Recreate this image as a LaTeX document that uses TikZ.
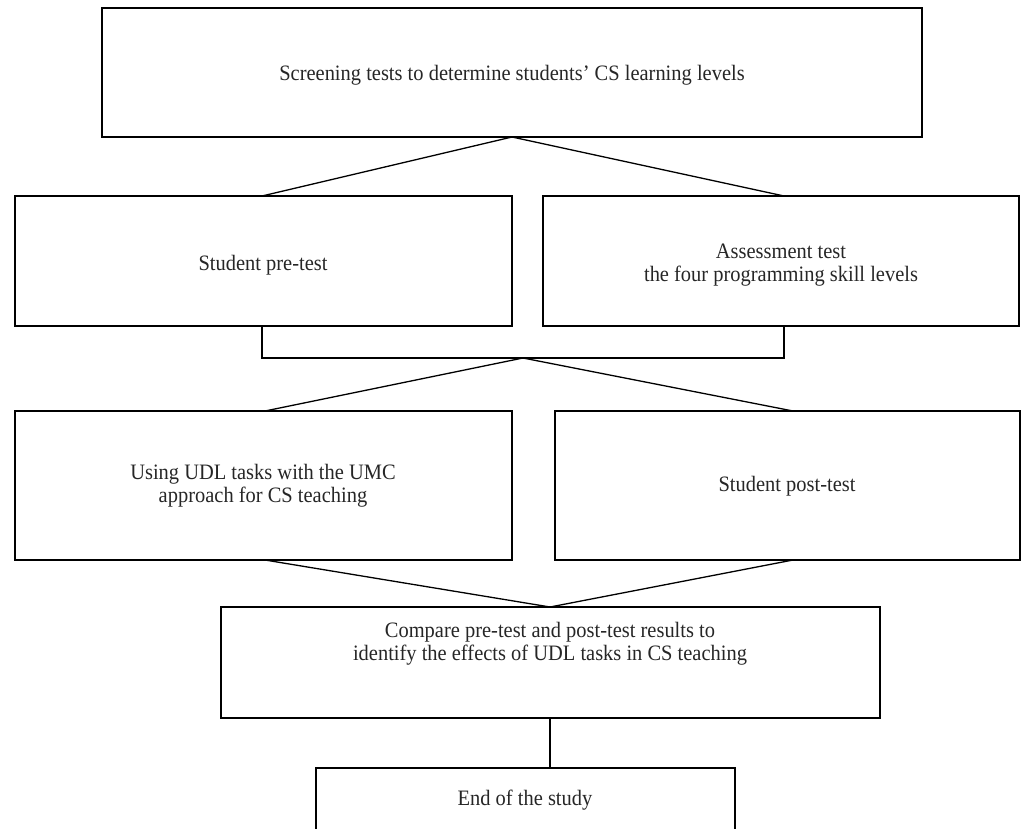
\documentclass[tikz,border=0pt]{standalone}
\usepackage{fontspec}
\setmainfont[FakeStretch=0.93]{Liberation Serif}
\begin{document}
\begin{tikzpicture}[x=1pt,y=-1pt,
  box/.style={draw=black,line width=1.3pt,fill=none},
  lbl/.style={align=center,font=\fontsize{22}{23}\selectfont,text=black!85,inner sep=0pt},
  conn/.style={draw=black,line width=1.3pt}]
\useasboundingbox (0,0) rectangle (1035,829);
% boxes
\draw[box] (102,8) rectangle (922,137);
\coordinate (topc) at (512,137);
\node[lbl] (t1) at (512,75) {Screening tests to determine students’ CS learning levels};
\draw[box] (15,196) rectangle (512,326);
\node[lbl] (t2) at (263,265) {Student pre-test};
\draw[box] (543,196) rectangle (1019,326);
\node[lbl] (t3) at (781,265) {Assessment test\\the four programming skill levels};
\draw[box] (15,411) rectangle (512,560);
\node[lbl] (t4) at (263,486) {Using UDL tasks with the UMC\\approach for CS teaching};
\draw[box] (555,411) rectangle (1020,560);
\node[lbl] (t5) at (787,486) {Student post-test};
\draw[box] (221,607) rectangle (880,718);
\node[lbl] (t6) at (550,644) {Compare pre-test and post-test results to\\identify the effects of UDL tasks in CS teaching};
\draw[box] (316,768) rectangle (735,840);
\node[lbl] (t7) at (525,800) {End of the study};
% connector anchor points
\coordinate (a2) at (262,196);
\coordinate (a3) at (784,196);
\coordinate (b2) at (262,326);
\coordinate (b3) at (784,326);
\coordinate (bl) at (262,358);
\coordinate (br) at (784,358);
\coordinate (bm) at (523,358);
\coordinate (c4) at (265,411);
\coordinate (c5) at (793,411);
\coordinate (d4) at (265,560);
\coordinate (d5) at (793,560);
\coordinate (e6) at (550,607);
\coordinate (f6) at (550,718);
\coordinate (g7) at (550,768);
% connectors
\draw[conn] (a2) -- (topc) -- (a3);
\draw[conn] (b2) -- (bl) -- (br) -- (b3);
\draw[conn] (c4) -- (bm) -- (c5);
\draw[conn] (d4) -- (e6) -- (d5);
\draw[conn] (f6) -- (g7);
\end{tikzpicture}
\end{document}
